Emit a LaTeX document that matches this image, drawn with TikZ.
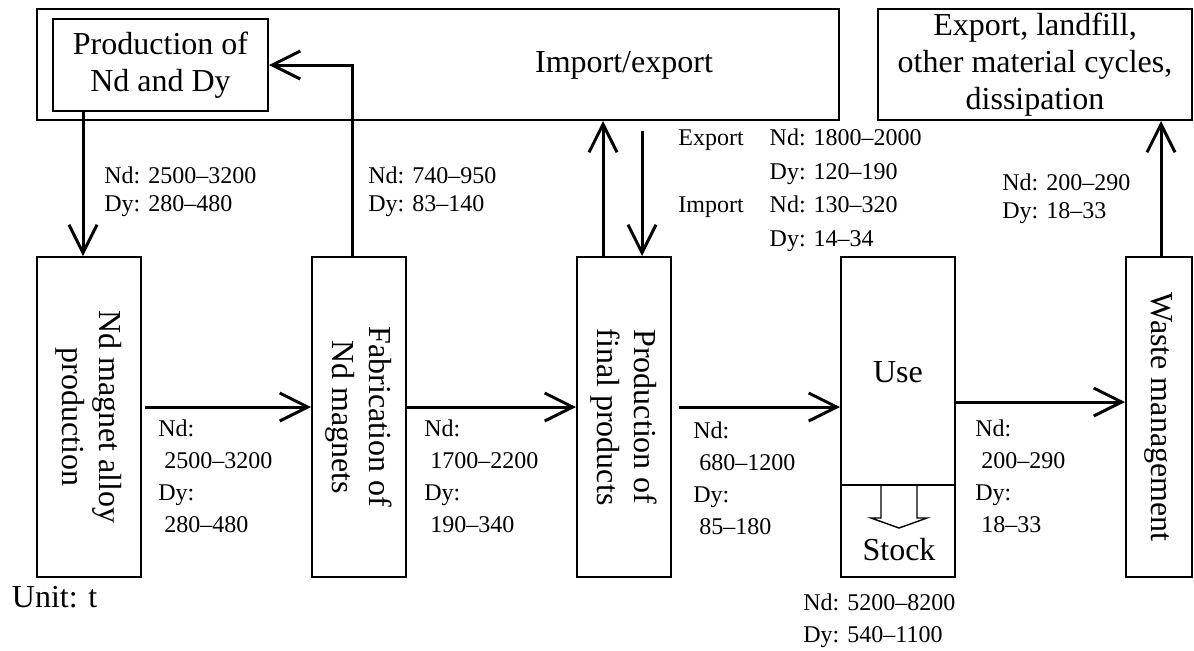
\documentclass[tikz,border=0pt]{standalone}
\usepackage{fontspec}
\setmainfont{Liberation Serif}
\usetikzlibrary{arrows.meta}
\tikzset{
	box/.style = {draw, line width=1pt, inner sep=0pt, align=center, font=\fontsize{16}{18.5}\selectfont},
	stage/.style = {box, minimum height=160pt},
	vtext/.style = {inner sep=0pt, rotate=-90, align=center, font=\fontsize{16}{18.5}\selectfont},
	big/.style = {inner sep=0pt, font=\fontsize{16}{18.5}\selectfont},
	flow/.style = {line width=1.5pt, -{Straight Barb[length=14pt, width=14pt]}},
	tlbl/.style = {inner sep=0pt, anchor=north west, align=left, font=\fontsize{12}{14}\selectfont},
	blbl/.style = {tlbl, font=\fontsize{12}{16}\selectfont},
	ielbl/.style = {inner sep=0pt, anchor=north west, font=\fontsize{12}{16.8}\selectfont},
}
\begin{document}
\begin{tikzpicture}[x = 0.5pt, y = -0.5pt]
	\useasboundingbox (0, 0) rectangle (1194, 650);
	% Nodes
	\node[box, minimum width=401pt, minimum height=55.5pt] (imex) at (438, 64.5) {};
	\node[big] (imextxt) at (624, 65) {Import/export};
	\node[box, minimum width=107.5pt, minimum height=46pt] (prod) at (160.5, 65) {Production of\\Nd and Dy};
	\node[box, minimum width=157pt, minimum height=55.5pt] (sink) at (1035, 64.5) {Export, landfill,\\other material cycles,\\dissipation};

	\node[stage, minimum width=52pt] (alloy) at (89, 417) {};
	\node[vtext] (alloytxt) at (alloy) {Nd magnet alloy\\production};
	\node[stage, minimum width=47pt] (fab) at (359, 417) {};
	\node[vtext] (fabtxt) at (fab) {Fabrication of\\Nd magnets};
	\node[stage, minimum width=47pt] (fin) at (624, 417) {};
	\node[vtext] (fintxt) at (fin) {Production of\\final products};
	\node[stage, minimum width=57pt] (use) at (898, 417) {};
	\node[big] (usetxt) at (898, 372) {Use};
	\node[stage, minimum width=33pt] (waste) at (1159, 417) {};
	\node[vtext] (wastetxt) at (waste) {Waste management};

	% Stock
	\coordinate (div) at (898, 485);
	\draw[line width=1pt] (use.west |- div) -- (use.east |- div);
	\draw[line width=0.7pt] (881, 485) -- (881, 518) -- (871, 518) -- (899, 528) -- (927, 518) -- (917, 518) -- (917, 485);
	\node[big] (stock) at (899, 550) {Stock};

	% Edges
	\draw[flow] ([xshift=-3pt]alloy.north |- prod.south) -- ([xshift=-3pt]alloy.north);
	\draw[flow] ([xshift=-3.5pt]fab.north) |- (prod.east);
	\draw[flow, shorten <=1.5pt] ([yshift=5pt]alloy.east) -- ([yshift=5pt]fab.west);
	\draw[flow] ([yshift=5pt]fab.east) -- ([yshift=5pt]fin.west);
	\draw[flow, shorten <=3.5pt] ([yshift=5pt]fin.east) -- ([yshift=5pt]use.west);
	\draw[flow] ([yshift=7.5pt]use.east) -- ([yshift=7.5pt]waste.west);
	\draw[flow] ([xshift=-10.5pt]fin.north) -- ([xshift=-10.5pt]fin.north |- imex.south);
	\draw[flow, shorten <=5pt] ([xshift=9pt]fin.north |- imex.south) -- ([xshift=9pt]fin.north);
	\draw[flow] ([xshift=1pt]waste.north) -- ([xshift=1pt]waste.north |- sink.south);

	% Labels
	\node[tlbl] (l1) at (104, 166.5) {Nd: 2500--3200\\Dy: 280--480};
	\node[tlbl] (l2) at (368, 166.5) {Nd: 740--950\\Dy: 83--140};
	\node[tlbl] (l3) at (1002, 173.5) {Nd: 200--290\\Dy: 18--33};
	\node[ielbl] (ie) at (678, 121.5) {\begin{tabular}{@{}l@{\hspace{13pt}}l@{}}
		Export & Nd: 1800--2000\\
		 & Dy: 120--190\\
		Import & Nd: 130--320\\
		 & Dy: 14--34
	\end{tabular}};
	\node[blbl] (b1) at (158, 419.5) {Nd:\\~2500--3200\\Dy:\\~280--480};
	\node[blbl] (b2) at (424, 419.5) {Nd:\\~1700--2200\\Dy:\\~190--340};
	\node[blbl] (b3) at (693, 421) {Nd:\\~680--1200\\Dy:\\~85--180};
	\node[blbl] (b4) at (975, 419.5) {Nd:\\~200--290\\Dy:\\~18--33};
	\node[blbl] (st) at (803, 593.5) {Nd: 5200--8200\\Dy: 540--1100};
	\node[big, anchor=west] (unit) at (11.5, 597) {Unit: t};
\end{tikzpicture}
\end{document}
